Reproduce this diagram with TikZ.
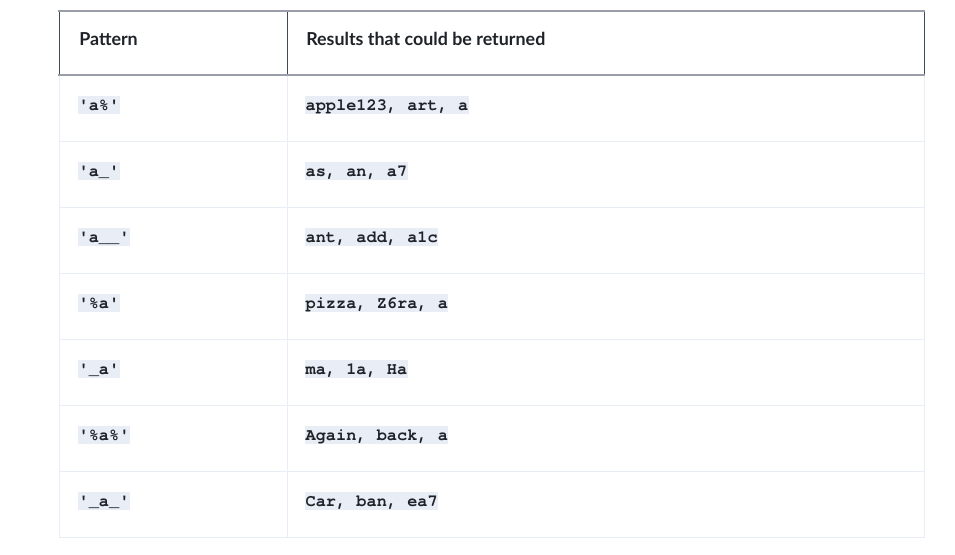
\documentclass[tikz,border=0pt]{standalone}
\usepackage{fontspec}
\setsansfont{Lato}
\newfontfamily\codefont{texgyrecursor}[Extension=.otf, UprightFont=*-regular, BoldFont=*-bold]
\definecolor{rulegray}{HTML}{9A9EA8}
\definecolor{edgedark}{HTML}{3E4A5C}
\definecolor{cellline}{HTML}{E9EDF5}
\definecolor{codebg}{HTML}{E8EDF6}
\definecolor{inktext}{HTML}{1F2328}

\begin{document}
\begin{tikzpicture}[x=0.75pt,y=-0.75pt,
  head/.style={anchor=base west, inner sep=0pt, text=inktext, font=\sffamily\bfseries\fontsize{13.4}{15}\selectfont},
  code/.style={anchor=base west, fill=codebg, inner xsep=0.3pt, inner ysep=0pt, text height=10.5pt, text depth=3pt, text=inktext, font=\codefont\bfseries\fontsize{12.7}{14}\selectfont}]
\useasboundingbox (0,0) rectangle (955,554);
\draw[cellline, line width=0.75pt] (59,75) -- (59,537) -- (924,537) -- (924,75);
\foreach \y in {141,207,...,471} \draw[cellline, line width=0.75pt] (59,\y) -- (924,\y);
\draw[cellline, line width=0.75pt] (287,75) -- (287,537);
\draw[edgedark, line width=0.75pt] (59,11) -- (59,75) (287,11) -- (287,75) (924,11) -- (924,75);
\draw[rulegray, line width=1.5pt] (58,11) -- (925,11) (58,75) -- (925,75);
\node[head] (hp) at (79,45) {Pattern};
\node[head] (hr) at (306,45) {Results that could be returned};
\foreach \pat/\res [count=\i] in {{'a\%'}/{apple123, art, a}, {'a\_'}/{as, an, a7}, {'a\_\_'}/{ant, add, a1c}, {'\%a'}/{pizza, Z6ra, a}, {'\_a'}/{ma, 1a, Ha}, {'\%a\%'}/{Again, back, a}, {'\_a\_'}/{Car, ban, ea7}}{
  \node[code] (p\i) at (78,{44+66*\i}) {\pat};
  \node[code] (r\i) at (305,{44+66*\i}) {\res};
}
\end{tikzpicture}
\end{document}
